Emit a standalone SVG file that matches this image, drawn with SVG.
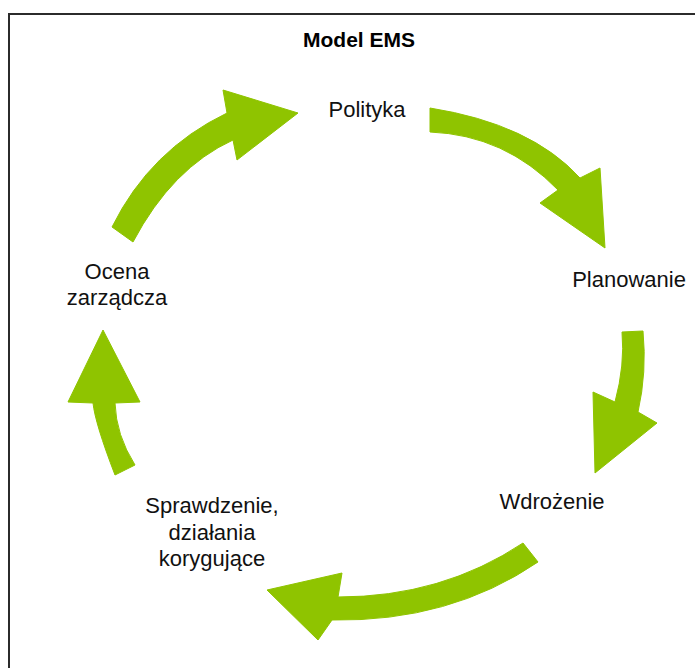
<svg xmlns="http://www.w3.org/2000/svg" width="695" height="668" viewBox="0 0 695 668">
  <style>
    .frame { fill: none; stroke: #2b2b2b; stroke-width: 2; }
    .title { font-family: "Liberation Sans", Arial, sans-serif; font-size: 21px; font-weight: bold; fill: #000; }
    .label { font-family: "Liberation Sans", Arial, sans-serif; font-size: 22px; fill: #111; }
    .arrow { fill: #8fc400; stroke: #8fc400; stroke-width: 1; stroke-linejoin: round; }
  </style>

  <rect width="695" height="668" fill="#ffffff"/>
  <!-- outer frame: only the top and left edges fall inside the canvas -->
  <rect class="frame" x="9" y="14" width="700" height="680"/>

  <text class="title" x="359" y="47" text-anchor="middle">Model EMS</text>

  <!-- curved block arrows forming the PDCA cycle -->
  <g id="connectors">
    <path class="arrow" d="M112,227 Q150,150 227,113 L223,90 L298,113 L237,160 L233,140 Q172,168 133,242 Z"/>
    <path class="arrow" d="M430,108 Q531,124 580,178 L600,168 L605,248 L540,203 L558,190 Q505,135 430,132 Z"/>
    <path class="arrow" d="M622,332 L643,331 Q647,372 638,412 L657,423 L595,473 L593,392 L615,402 Q625,365 622,332 Z"/>
    <path class="arrow" d="M523,543 Q442,597 338,597 L342,573 L267,590 L318,640 L332,620 Q450,622 538,562 Z"/>
    <path class="arrow" d="M115,475 Q95,423 93,403 L68,402 L103,330 L140,402 L115,403 Q116,435 135,465 Z"/>
  </g>

  <g id="polityka">
    <text class="label" x="367" y="117" text-anchor="middle">Polityka</text>
  </g>
  <g id="planowanie">
    <text class="label" x="629" y="287" text-anchor="middle">Planowanie</text>
  </g>
  <g id="wdrozenie">
    <text class="label" x="552" y="509" text-anchor="middle">Wdrożenie</text>
  </g>
  <g id="sprawdzenie">
    <text class="label" x="212" y="513" text-anchor="middle">Sprawdzenie,</text>
    <text class="label" x="212" y="540" text-anchor="middle">działania</text>
    <text class="label" x="212" y="566" text-anchor="middle">korygujące</text>
  </g>
  <g id="ocena">
    <text class="label" x="117" y="279" text-anchor="middle">Ocena</text>
    <text class="label" x="117" y="305" text-anchor="middle">zarządcza</text>
  </g>
</svg>
